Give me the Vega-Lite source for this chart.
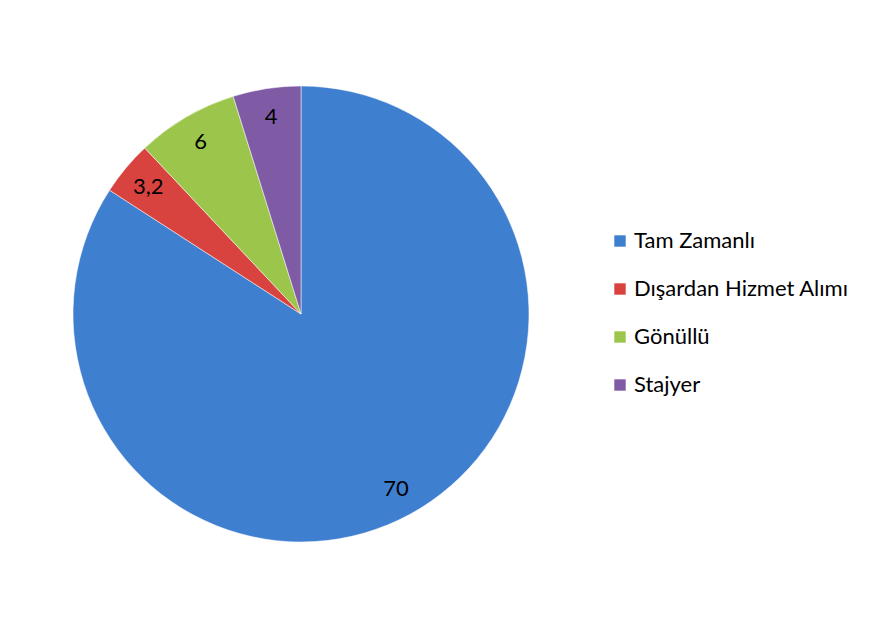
{
  "$schema": "https://vega.github.io/schema/vega-lite/v6.json",
  "width": 586,
  "height": 628,
  "autosize": "none",
  "padding": {"left": 8, "top": 0, "right": 294, "bottom": 1},
  "background": "white",
  "config": {
    "view": {"stroke": null},
    "font": "Lato",
    "locale": {"number": {"decimal": ",", "thousands": ".", "grouping": [3], "currency": ["", " ₺"]}}
  },
  "data": {
    "values": [
      {"kategori": "Tam Zamanlı", "deger": 70, "sira": 1},
      {"kategori": "Dışardan Hizmet Alımı", "deger": 3.2, "sira": 2},
      {"kategori": "Gönüllü", "deger": 6, "sira": 3},
      {"kategori": "Stajyer", "deger": 4, "sira": 4}
    ]
  },
  "encoding": {
    "theta": {"field": "deger", "type": "quantitative", "stack": true},
    "order": {"field": "sira", "type": "quantitative", "sort": "ascending"},
    "color": {
      "field": "kategori",
      "type": "nominal",
      "sort": null,
      "scale": {
        "domain": ["Tam Zamanlı", "Dışardan Hizmet Alımı", "Gönüllü", "Stajyer"],
        "range": ["#3f7fd0", "#d9433f", "#9cc64b", "#7f5ba6"]
      },
      "legend": {
        "title": null,
        "orient": "none",
        "legendX": 601,
        "legendY": 230,
        "symbolType": "square",
        "symbolSize": 130,
        "symbolStrokeWidth": 0,
        "labelFontSize": 22,
        "labelFont": "Lato",
        "labelColor": "#000000",
        "labelOffset": 3,
        "rowPadding": 26,
        "labelLimit": 400
      }
    }
  },
  "layer": [
    {
      "mark": {"type": "arc", "outerRadius": 228, "stroke": "#ffffff", "strokeWidth": 1, "strokeOpacity": 0.5}
    },
    {
      "mark": {"type": "text", "radius": 199, "fontSize": 22, "font": "Lato", "color": "#000000"},
      "encoding": {
        "text": {"field": "deger", "type": "quantitative", "format": ".1~f"},
        "color": {"value": "#000000"}
      }
    }
  ]
}
